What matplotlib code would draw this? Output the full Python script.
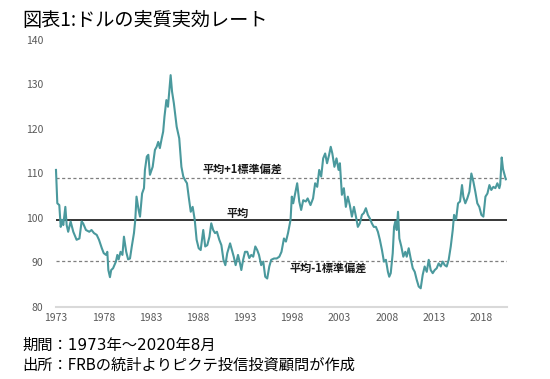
import matplotlib
matplotlib.use("Agg")
import matplotlib.pyplot as plt

plt.rcParams['font.family'] = ['Noto Sans CJK JP', 'DejaVu Sans']

years = [
    1973.00, 1973.14, 1973.35, 1973.50, 1973.63, 1973.77, 1973.99, 1974.13, 1974.29, 1974.55,
    1974.83, 1975.18, 1975.48, 1975.71, 1975.87, 1976.17, 1976.52, 1976.76, 1977.02, 1977.31,
    1977.55, 1977.85, 1978.05, 1978.29, 1978.43, 1978.54, 1978.71, 1978.84, 1979.04, 1979.34,
    1979.49, 1979.63, 1979.83, 1980.03, 1980.19, 1980.43, 1980.63, 1980.83, 1981.02, 1981.25,
    1981.39, 1981.52, 1981.74, 1981.89, 1982.11, 1982.31, 1982.41, 1982.61, 1982.77, 1982.94,
    1983.23, 1983.47, 1983.65, 1983.82, 1983.99, 1984.19, 1984.34, 1984.48, 1984.68, 1984.85,
    1984.98, 1985.13, 1985.28, 1985.47, 1985.77, 1986.04, 1986.27, 1986.47, 1986.66, 1986.86,
    1987.04, 1987.26, 1987.46, 1987.68, 1987.88, 1988.10, 1988.31, 1988.58, 1988.79, 1989.01,
    1989.24, 1989.43, 1989.63, 1989.83, 1990.03, 1990.28, 1990.50, 1990.72, 1990.92, 1991.12,
    1991.42, 1991.61, 1991.81, 1992.01, 1992.26, 1992.47, 1992.61, 1992.80, 1993.00, 1993.24,
    1993.45, 1993.66, 1993.87, 1994.09, 1994.29, 1994.48, 1994.71, 1994.93, 1995.14, 1995.35,
    1995.57, 1995.77, 1996.07, 1996.35, 1996.63, 1996.86, 1997.12, 1997.33, 1997.55, 1997.82,
    1997.95, 1998.10, 1998.31, 1998.52, 1998.74, 1998.94, 1999.16, 1999.43, 1999.63, 1999.93,
    2000.20, 2000.42, 2000.64, 2000.85, 2001.06, 2001.27, 2001.48, 2001.68, 2001.90, 2002.07,
    2002.24, 2002.46, 2002.68, 2002.90, 2003.04, 2003.25, 2003.46, 2003.67, 2003.88, 2004.09,
    2004.31, 2004.53, 2004.74, 2004.94, 2005.15, 2005.37, 2005.57, 2005.79, 2006.00, 2006.21,
    2006.42, 2006.63, 2006.85, 2007.06, 2007.27, 2007.49, 2007.70, 2007.91, 2008.12, 2008.26,
    2008.42, 2008.63, 2008.77, 2008.90, 2009.05, 2009.19, 2009.33, 2009.54, 2009.75, 2009.96,
    2010.11, 2010.32, 2010.53, 2010.75, 2010.96, 2011.17, 2011.38, 2011.59, 2011.80, 2012.01,
    2012.23, 2012.44, 2012.65, 2012.86, 2013.07, 2013.28, 2013.49, 2013.71, 2013.92, 2014.13,
    2014.34, 2014.55, 2014.77, 2014.98, 2015.12, 2015.33, 2015.54, 2015.75, 2015.96, 2016.10,
    2016.31, 2016.52, 2016.74, 2016.95, 2017.16, 2017.37, 2017.58, 2017.79, 2018.01, 2018.22,
    2018.44, 2018.65, 2018.86, 2019.06, 2019.28, 2019.49, 2019.70, 2019.91, 2020.00, 2020.16,
    2020.30, 2020.45, 2020.59,
]
values = [
    110.8, 103.3, 102.9, 98.0, 99.6, 98.4, 102.5, 98.4, 96.9, 99.2,
    96.9, 95.1, 95.4, 99.2, 98.8, 97.3, 96.9, 97.3, 96.6, 96.2,
    95.1, 93.2, 92.1, 91.7, 92.4, 88.3, 86.7, 88.3, 88.7, 90.2,
    91.7, 90.7, 92.4, 91.7, 95.8, 92.4, 90.7, 90.9, 93.6, 96.6,
    99.6, 104.8, 101.8, 100.3, 105.5, 106.7, 110.8, 113.8, 114.2, 109.7,
    111.5, 115.3, 116.0, 117.1, 115.7, 117.9, 119.4, 122.8, 126.5, 125.0,
    128.4, 132.1, 128.4, 125.8, 120.5, 117.9, 111.5, 109.3, 108.5, 107.8,
    104.8, 101.4, 102.5, 99.6, 95.1, 93.2, 92.8, 97.3, 93.6, 93.9,
    95.8, 98.8, 97.3, 96.6, 96.9, 95.1, 93.9, 90.6, 89.4, 92.1,
    94.3, 92.8, 91.3, 89.4, 91.7, 89.8, 88.3, 90.6, 92.4, 92.4,
    91.0, 91.7, 91.3, 93.6, 92.8, 91.7, 89.4, 90.2, 86.8, 86.4,
    89.1, 90.6, 90.9, 90.9, 91.3, 92.4, 95.4, 94.7, 96.6, 99.6,
    104.8, 103.3, 105.5, 107.8, 103.7, 101.8, 104.0, 103.7, 104.4, 102.9,
    104.4, 107.8, 107.0, 110.8, 109.3, 113.4, 114.5, 112.3, 114.2, 116.0,
    114.5, 111.5, 113.4, 110.8, 112.3, 105.2, 106.7, 102.5, 104.8, 102.9,
    100.3, 102.5, 100.3, 98.0, 98.8, 100.7, 101.1, 102.2, 100.7, 99.9,
    98.8, 98.0, 98.0, 96.9, 95.1, 92.8, 90.2, 90.6, 87.9, 86.8,
    87.6, 92.1, 98.0, 99.2, 97.3, 101.4, 95.4, 93.6, 91.3, 92.4,
    91.3, 93.2, 90.9, 88.7, 87.9, 86.1, 84.6, 84.2, 87.2, 89.1,
    87.9, 90.6, 88.3, 87.6, 88.3, 88.7, 89.8, 89.1, 90.2, 89.4,
    89.1, 90.6, 93.6, 97.3, 100.7, 99.6, 103.3, 103.7, 107.4, 104.8,
    103.3, 104.4, 105.9, 110.0, 108.2, 105.9, 103.3, 102.5, 100.7, 100.3,
    104.8, 105.5, 107.4, 106.3, 107.0, 106.7, 107.8, 106.7, 107.5, 113.6,
    111.0, 109.8, 108.7,
]

mean_value = 99.5
plus_1sd = 108.9
minus_1sd = 90.3

y_ticks = [80, 90, 100, 110, 120, 130, 140]
x_ticks = [1973, 1978, 1983, 1988, 1993, 1998, 2003, 2008, 2013, 2018]

title = "図表1:ドルの実質実効レート"
note1 = "期間：1973年～2020年8月"
note2 = "出所：FRBの統計よりピクテ投信投資顧問が作成"
label_plus = "平均+1標準偏差"
label_mean = "平均"
label_minus = "平均-1標準偏差"

fig = plt.figure(figsize=(5.5, 3.79), dpi=100)
ax = fig.add_axes([0.1018, 0.190, 0.820, 0.7045])

ax.axhline(plus_1sd, color='#7f7f7f', lw=0.9, ls=(0, (2.5, 2.0)), zorder=1)
ax.axhline(minus_1sd, color='#7f7f7f', lw=0.9, ls=(0, (2.5, 2.0)), zorder=1)
ax.axhline(mean_value, color='black', lw=1.1, zorder=2)
ax.plot(years, values, color='#4a999d', lw=1.5, zorder=3, clip_on=False)

ax.set_xlim(1973.0, 2020.72)
ax.set_ylim(80, 140)
ax.set_yticks(y_ticks)
ax.set_xticks(x_ticks)
ax.set_xticklabels([str(t) for t in x_ticks])

for s in ['top', 'right', 'left']:
    ax.spines[s].set_visible(False)
ax.spines['bottom'].set_color('#d9d9d9')
ax.spines['bottom'].set_linewidth(1.5)
ax.tick_params(axis='both', length=0, labelsize=7.5, labelcolor='#595959')
ax.tick_params(axis='y', pad=9)
ax.tick_params(axis='x', pad=4)

ax.text(1992.68, 111.0, label_plus, ha='center', va='center', fontsize=8, fontweight='bold', color='#1a1a1a')
ax.text(1992.26, 101.1, label_mean, ha='center', va='center', fontsize=8, fontweight='bold', color='#1a1a1a')
ax.text(2001.78, 88.8, label_minus, ha='center', va='center', fontsize=8, fontweight='bold', color='#1a1a1a')

fig.text(22/550, 1 - 20/379, title, ha='left', va='center', fontsize=13.8, color='black')
fig.text(22/550, 1 - 345/379, note1, ha='left', va='center', fontsize=11,
         color='black', family=['DejaVu Sans', 'Noto Sans CJK JP'])
fig.text(22/550, 1 - 365/379, note2, ha='left', va='center', fontsize=11, color='black')

fig.savefig('out.png', dpi=100)
